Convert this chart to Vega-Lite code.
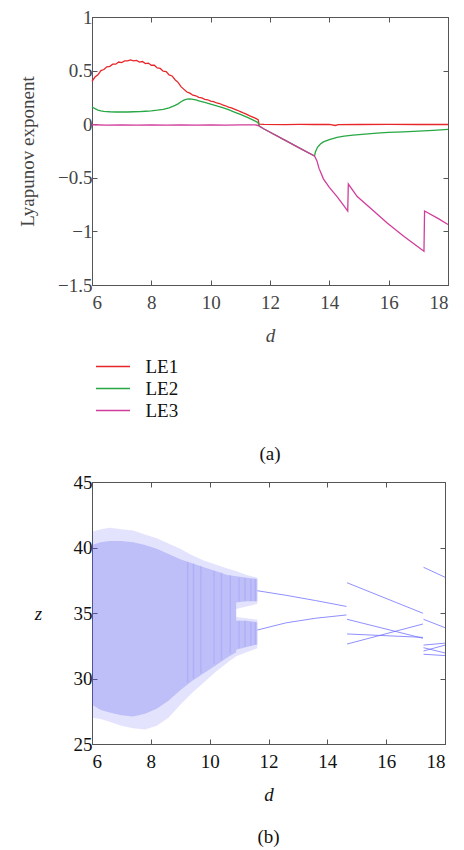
{
  "$schema": "https://vega.github.io/schema/vega-lite/v6.json",
  "background": "white",
  "padding": {"left": 18, "top": 7, "right": 4, "bottom": 5},
  "config": {
    "font": "Liberation Serif",
    "view": {"stroke": "#555", "strokeWidth": 1},
    "axis": {"grid": false, "domainColor": "#555", "tickColor": "#555", "tickSize": -5, "labelFont": "Liberation Serif", "labelFontSize": 19, "titleFont": "Liberation Serif", "titleFontSize": 19, "titleFontWeight": "normal", "labelPadding": 5},
    "axisX": {"labelPadding": 13},
    "title": {"font": "Liberation Serif", "fontSize": 19, "fontWeight": "normal", "color": "#111"}
  },
  "spacing": 7,
  "datasets": {
    "le": [
      {"s": "LE1", "d": 6.0, "v": 0.40}, {"s": "LE1", "d": 6.1, "v": 0.44}, {"s": "LE1", "d": 6.2, "v": 0.46}, {"s": "LE1", "d": 6.3, "v": 0.50}, {"s": "LE1", "d": 6.4, "v": 0.51}, {"s": "LE1", "d": 6.5, "v": 0.535}, {"s": "LE1", "d": 6.6, "v": 0.54}, {"s": "LE1", "d": 6.7, "v": 0.56}, {"s": "LE1", "d": 6.8, "v": 0.56}, {"s": "LE1", "d": 6.9, "v": 0.58},
      {"s": "LE1", "d": 7.0, "v": 0.575}, {"s": "LE1", "d": 7.1, "v": 0.59}, {"s": "LE1", "d": 7.2, "v": 0.59}, {"s": "LE1", "d": 7.3, "v": 0.60}, {"s": "LE1", "d": 7.4, "v": 0.59}, {"s": "LE1", "d": 7.5, "v": 0.595}, {"s": "LE1", "d": 7.6, "v": 0.58}, {"s": "LE1", "d": 7.7, "v": 0.585}, {"s": "LE1", "d": 7.8, "v": 0.565}, {"s": "LE1", "d": 7.9, "v": 0.57},
      {"s": "LE1", "d": 8.0, "v": 0.55}, {"s": "LE1", "d": 8.1, "v": 0.55}, {"s": "LE1", "d": 8.2, "v": 0.525}, {"s": "LE1", "d": 8.3, "v": 0.52}, {"s": "LE1", "d": 8.4, "v": 0.495}, {"s": "LE1", "d": 8.5, "v": 0.49}, {"s": "LE1", "d": 8.6, "v": 0.46}, {"s": "LE1", "d": 8.7, "v": 0.45}, {"s": "LE1", "d": 8.8, "v": 0.415}, {"s": "LE1", "d": 8.9, "v": 0.39},
      {"s": "LE1", "d": 9.0, "v": 0.35}, {"s": "LE1", "d": 9.1, "v": 0.325}, {"s": "LE1", "d": 9.2, "v": 0.30}, {"s": "LE1", "d": 9.3, "v": 0.29}, {"s": "LE1", "d": 9.4, "v": 0.27}, {"s": "LE1", "d": 9.5, "v": 0.265}, {"s": "LE1", "d": 9.6, "v": 0.25}, {"s": "LE1", "d": 9.7, "v": 0.245}, {"s": "LE1", "d": 9.8, "v": 0.232}, {"s": "LE1", "d": 9.9, "v": 0.228},
      {"s": "LE1", "d": 10.0, "v": 0.215}, {"s": "LE1", "d": 10.1, "v": 0.21}, {"s": "LE1", "d": 10.2, "v": 0.198}, {"s": "LE1", "d": 10.3, "v": 0.193}, {"s": "LE1", "d": 10.4, "v": 0.18}, {"s": "LE1", "d": 10.5, "v": 0.172}, {"s": "LE1", "d": 10.6, "v": 0.16}, {"s": "LE1", "d": 10.7, "v": 0.152}, {"s": "LE1", "d": 10.8, "v": 0.14}, {"s": "LE1", "d": 10.9, "v": 0.13},
      {"s": "LE1", "d": 11.0, "v": 0.118}, {"s": "LE1", "d": 11.1, "v": 0.105}, {"s": "LE1", "d": 11.2, "v": 0.094}, {"s": "LE1", "d": 11.3, "v": 0.08}, {"s": "LE1", "d": 11.4, "v": 0.068}, {"s": "LE1", "d": 11.5, "v": 0.056}, {"s": "LE1", "d": 11.6, "v": 0.042}, {"s": "LE1", "d": 11.63, "v": 0.0}, {"s": "LE1", "d": 11.8, "v": -0.002}, {"s": "LE1", "d": 12.5, "v": -0.004},
      {"s": "LE1", "d": 13.0, "v": -0.002}, {"s": "LE1", "d": 13.5, "v": -0.003}, {"s": "LE1", "d": 14.0, "v": -0.002}, {"s": "LE1", "d": 14.2, "v": -0.012}, {"s": "LE1", "d": 14.3, "v": -0.004}, {"s": "LE1", "d": 15.0, "v": -0.003}, {"s": "LE1", "d": 16.0, "v": -0.002}, {"s": "LE1", "d": 17.0, "v": -0.003}, {"s": "LE1", "d": 18.0, "v": -0.003},
      {"s": "LE2", "d": 6.0, "v": 0.16}, {"s": "LE2", "d": 6.1, "v": 0.145}, {"s": "LE2", "d": 6.2, "v": 0.132}, {"s": "LE2", "d": 6.3, "v": 0.125}, {"s": "LE2", "d": 6.4, "v": 0.12}, {"s": "LE2", "d": 6.6, "v": 0.116}, {"s": "LE2", "d": 6.8, "v": 0.114}, {"s": "LE2", "d": 7.0, "v": 0.115}, {"s": "LE2", "d": 7.2, "v": 0.114}, {"s": "LE2", "d": 7.4, "v": 0.116},
      {"s": "LE2", "d": 7.6, "v": 0.118}, {"s": "LE2", "d": 7.8, "v": 0.121}, {"s": "LE2", "d": 8.0, "v": 0.125}, {"s": "LE2", "d": 8.2, "v": 0.131}, {"s": "LE2", "d": 8.4, "v": 0.139}, {"s": "LE2", "d": 8.6, "v": 0.152}, {"s": "LE2", "d": 8.8, "v": 0.175}, {"s": "LE2", "d": 8.9, "v": 0.19}, {"s": "LE2", "d": 9.0, "v": 0.21}, {"s": "LE2", "d": 9.1, "v": 0.225},
      {"s": "LE2", "d": 9.2, "v": 0.233}, {"s": "LE2", "d": 9.3, "v": 0.236}, {"s": "LE2", "d": 9.4, "v": 0.232}, {"s": "LE2", "d": 9.5, "v": 0.226}, {"s": "LE2", "d": 9.6, "v": 0.218}, {"s": "LE2", "d": 9.8, "v": 0.203}, {"s": "LE2", "d": 10.0, "v": 0.188}, {"s": "LE2", "d": 10.2, "v": 0.172}, {"s": "LE2", "d": 10.4, "v": 0.155}, {"s": "LE2", "d": 10.6, "v": 0.135},
      {"s": "LE2", "d": 10.8, "v": 0.113}, {"s": "LE2", "d": 11.0, "v": 0.092}, {"s": "LE2", "d": 11.2, "v": 0.068}, {"s": "LE2", "d": 11.4, "v": 0.043}, {"s": "LE2", "d": 11.55, "v": 0.022}, {"s": "LE2", "d": 11.6, "v": 0.012}, {"s": "LE2", "d": 11.65, "v": -0.02}, {"s": "LE2", "d": 11.8, "v": -0.045}, {"s": "LE2", "d": 12.5, "v": -0.149}, {"s": "LE2", "d": 13.0, "v": -0.223},
      {"s": "LE2", "d": 13.5, "v": -0.297}, {"s": "LE2", "d": 13.53, "v": -0.26}, {"s": "LE2", "d": 13.6, "v": -0.215}, {"s": "LE2", "d": 13.7, "v": -0.185}, {"s": "LE2", "d": 13.8, "v": -0.165}, {"s": "LE2", "d": 14.0, "v": -0.143}, {"s": "LE2", "d": 14.26, "v": -0.122}, {"s": "LE2", "d": 14.5, "v": -0.112}, {"s": "LE2", "d": 14.8, "v": -0.102}, {"s": "LE2", "d": 15.2, "v": -0.092},
      {"s": "LE2", "d": 15.6, "v": -0.083}, {"s": "LE2", "d": 16.0, "v": -0.077}, {"s": "LE2", "d": 16.5, "v": -0.071}, {"s": "LE2", "d": 17.0, "v": -0.064}, {"s": "LE2", "d": 17.5, "v": -0.057}, {"s": "LE2", "d": 18.0, "v": -0.049},
      {"s": "LE3", "d": 6.0, "v": -0.005}, {"s": "LE3", "d": 6.5, "v": -0.008}, {"s": "LE3", "d": 7.0, "v": -0.006}, {"s": "LE3", "d": 7.5, "v": -0.009}, {"s": "LE3", "d": 8.0, "v": -0.006}, {"s": "LE3", "d": 8.5, "v": -0.008}, {"s": "LE3", "d": 9.0, "v": -0.006}, {"s": "LE3", "d": 9.5, "v": -0.008}, {"s": "LE3", "d": 10.0, "v": -0.006}, {"s": "LE3", "d": 10.5, "v": -0.009},
      {"s": "LE3", "d": 11.0, "v": -0.006}, {"s": "LE3", "d": 11.5, "v": -0.007}, {"s": "LE3", "d": 11.6, "v": -0.012}, {"s": "LE3", "d": 11.8, "v": -0.045}, {"s": "LE3", "d": 12.5, "v": -0.149}, {"s": "LE3", "d": 13.0, "v": -0.223}, {"s": "LE3", "d": 13.5, "v": -0.297}, {"s": "LE3", "d": 13.58, "v": -0.34}, {"s": "LE3", "d": 13.65, "v": -0.41}, {"s": "LE3", "d": 13.8, "v": -0.51},
      {"s": "LE3", "d": 14.0, "v": -0.59}, {"s": "LE3", "d": 14.26, "v": -0.675}, {"s": "LE3", "d": 14.45, "v": -0.745}, {"s": "LE3", "d": 14.62, "v": -0.81}, {"s": "LE3", "d": 14.64, "v": -0.558}, {"s": "LE3", "d": 14.94, "v": -0.675}, {"s": "LE3", "d": 15.39, "v": -0.785}, {"s": "LE3", "d": 15.96, "v": -0.925}, {"s": "LE3", "d": 16.53, "v": -1.05}, {"s": "LE3", "d": 17.19, "v": -1.185},
      {"s": "LE3", "d": 17.21, "v": -0.81}, {"s": "LE3", "d": 17.66, "v": -0.878}, {"s": "LE3", "d": 18.0, "v": -0.935}
    ],
    "outer": [
      {"part": "main", "d": 6.0, "lo": 27.0, "hi": 41.2}, {"part": "main", "d": 6.3, "lo": 26.9, "hi": 41.4}, {"part": "main", "d": 6.6, "lo": 26.7, "hi": 41.5}, {"part": "main", "d": 7.0, "lo": 26.4, "hi": 41.4}, {"part": "main", "d": 7.4, "lo": 26.2, "hi": 41.3}, {"part": "main", "d": 7.8, "lo": 26.1, "hi": 41.0}, {"part": "main", "d": 8.2, "lo": 26.4, "hi": 40.7}, {"part": "main", "d": 8.6, "lo": 27.0, "hi": 40.3}, {"part": "main", "d": 9.0, "lo": 28.0, "hi": 39.9}, {"part": "main", "d": 9.4, "lo": 28.9, "hi": 39.4}, {"part": "main", "d": 9.8, "lo": 29.7, "hi": 39.0}, {"part": "main", "d": 10.2, "lo": 30.5, "hi": 38.7}, {"part": "main", "d": 10.6, "lo": 31.2, "hi": 38.4}, {"part": "main", "d": 10.9, "lo": 31.7, "hi": 38.2},
      {"part": "upper", "d": 10.9, "lo": 35.3, "hi": 38.2}, {"part": "upper", "d": 11.25, "lo": 35.5, "hi": 37.9}, {"part": "upper", "d": 11.62, "lo": 35.7, "hi": 37.7},
      {"part": "lower", "d": 10.9, "lo": 31.7, "hi": 34.7}, {"part": "lower", "d": 11.25, "lo": 32.0, "hi": 34.6}, {"part": "lower", "d": 11.62, "lo": 32.3, "hi": 34.5}
    ],
    "inner": [
      {"part": "main", "d": 6.0, "lo": 28.0, "hi": 40.2}, {"part": "main", "d": 6.3, "lo": 27.6, "hi": 40.4}, {"part": "main", "d": 6.6, "lo": 27.4, "hi": 40.5}, {"part": "main", "d": 7.0, "lo": 27.2, "hi": 40.5}, {"part": "main", "d": 7.4, "lo": 27.1, "hi": 40.4}, {"part": "main", "d": 7.8, "lo": 27.3, "hi": 40.2}, {"part": "main", "d": 8.2, "lo": 27.7, "hi": 39.9}, {"part": "main", "d": 8.6, "lo": 28.3, "hi": 39.5}, {"part": "main", "d": 9.0, "lo": 29.1, "hi": 39.1}, {"part": "main", "d": 9.4, "lo": 29.8, "hi": 38.8}, {"part": "main", "d": 9.8, "lo": 30.4, "hi": 38.5}, {"part": "main", "d": 10.2, "lo": 31.0, "hi": 38.2}, {"part": "main", "d": 10.6, "lo": 31.6, "hi": 37.9}, {"part": "main", "d": 10.9, "lo": 32.0, "hi": 37.8},
      {"part": "upper", "d": 10.9, "lo": 35.8, "hi": 37.8}, {"part": "upper", "d": 11.25, "lo": 35.9, "hi": 37.7}, {"part": "upper", "d": 11.62, "lo": 35.9, "hi": 37.6},
      {"part": "lower", "d": 10.9, "lo": 32.2, "hi": 34.4}, {"part": "lower", "d": 11.25, "lo": 32.4, "hi": 34.4}, {"part": "lower", "d": 11.62, "lo": 32.6, "hi": 34.3}
    ],
    "stripes": [
      {"d": 9.25, "lo": 29.7, "hi": 38.9}, {"d": 9.45, "lo": 30.0, "hi": 38.8}, {"d": 9.7, "lo": 30.4, "hi": 38.6}, {"d": 10.15, "lo": 31.1, "hi": 38.2}, {"d": 10.4, "lo": 31.4, "hi": 38.1}, {"d": 10.7, "lo": 31.9, "hi": 37.9},
      {"d": 11.0, "lo": 35.9, "hi": 37.7}, {"d": 11.0, "lo": 32.3, "hi": 34.4}, {"d": 11.2, "lo": 35.9, "hi": 37.7}, {"d": 11.2, "lo": 32.4, "hi": 34.4},
      {"d": 11.4, "lo": 35.9, "hi": 37.6}, {"d": 11.4, "lo": 32.5, "hi": 34.3}, {"d": 11.55, "lo": 35.9, "hi": 37.6}, {"d": 11.55, "lo": 32.6, "hi": 34.3}
    ],
    "branches": [
      {"b": "p2u", "d": 11.62, "z": 36.7}, {"b": "p2u", "d": 12.6, "z": 36.35}, {"b": "p2u", "d": 13.6, "z": 35.95}, {"b": "p2u", "d": 14.65, "z": 35.5},
      {"b": "p2l", "d": 11.62, "z": 33.7}, {"b": "p2l", "d": 12.6, "z": 34.25}, {"b": "p2l", "d": 13.6, "z": 34.6}, {"b": "p2l", "d": 14.65, "z": 34.85},
      {"b": "p4a", "d": 14.67, "z": 37.31}, {"b": "p4a", "d": 17.25, "z": 34.98},
      {"b": "p4b", "d": 14.67, "z": 34.52}, {"b": "p4b", "d": 17.25, "z": 33.07},
      {"b": "p4c", "d": 14.67, "z": 33.40}, {"b": "p4c", "d": 17.25, "z": 33.14},
      {"b": "p4d", "d": 14.67, "z": 32.63}, {"b": "p4d", "d": 17.25, "z": 34.16},
      {"b": "p8a", "d": 17.27, "z": 38.49}, {"b": "p8a", "d": 18.0, "z": 37.73},
      {"b": "p8b", "d": 17.27, "z": 34.52}, {"b": "p8b", "d": 18.0, "z": 33.88},
      {"b": "p8c", "d": 17.27, "z": 32.55}, {"b": "p8c", "d": 18.0, "z": 32.7},
      {"b": "p8d", "d": 17.27, "z": 32.1}, {"b": "p8d", "d": 18.0, "z": 32.55},
      {"b": "p8e", "d": 17.27, "z": 32.35}, {"b": "p8e", "d": 18.0, "z": 31.95},
      {"b": "p8f", "d": 17.27, "z": 31.85}, {"b": "p8f", "d": 18.0, "z": 31.75}
    ]
  },
  "vconcat": [
    {
      "width": 356,
      "height": 268,
      "title": {"text": "(a)", "orient": "bottom", "offset": 100},
      "layer": [
        {
          "data": {"name": "le"},
          "mark": {"type": "line", "strokeWidth": 1.3},
          "encoding": {
            "x": {"field": "d", "type": "quantitative", "scale": {"domain": [6, 18], "nice": false}, "axis": {"title": "d", "titleFontStyle": "italic", "values": [6, 8, 10, 12, 14, 16, 18], "format": "~g", "labelFont": "Liberation Serif", "labelColor": "#444", "titleColor": "#444", "titlePadding": 14}},
            "y": {"field": "v", "type": "quantitative", "scale": {"domain": [-1.5, 1], "nice": false}, "axis": {"title": "Lyapunov exponent", "values": [-1.5, -1, -0.5, 0, 0.5, 1], "format": "~g", "labelFont": "Liberation Serif", "labelColor": "#444", "titleColor": "#444", "titlePadding": 20}},
            "color": {"field": "s", "type": "nominal", "scale": {"domain": ["LE1", "LE2", "LE3"], "range": ["#e8262a", "#27a844", "#d03d9b"]}, "legend": {"title": null, "orient": "none", "legendX": 11.5, "legendY": 340, "symbolType": "M-2,0H2", "symbolSize": 289, "symbolStrokeWidth": 1.5, "labelFont": "Liberation Serif", "labelFontSize": 19, "labelColor": "#111", "labelOffset": 23, "rowPadding": 2}}
          }
        },
        {
          "data": {"name": "le"},
          "mark": {"type": "point", "opacity": 0},
          "encoding": {
            "x": {"field": "d", "type": "quantitative", "axis": {"orient": "top", "labels": false, "title": null, "values": [6, 8, 10, 12, 14, 16, 18]}},
            "y": {"field": "v", "type": "quantitative", "axis": {"orient": "right", "labels": false, "title": null, "values": [-1.5, -1, -0.5, 0, 0.5, 1]}}
          }
        }
      ],
      "resolve": {"axis": {"x": "independent", "y": "independent"}}
    },
    {
      "width": 353,
      "height": 262,
      "title": {"text": "(b)", "orient": "bottom", "offset": 24},
      "layer": [
        {
          "data": {"name": "outer"},
          "mark": {"type": "area", "color": "#5050f0", "opacity": 0.16},
          "encoding": {
            "x": {"field": "d", "type": "quantitative", "scale": {"domain": [6, 18], "nice": false}, "axis": {"title": "d", "titleFontStyle": "italic", "values": [6, 8, 10, 12, 14, 16, 18], "format": "~g", "labelFont": "Liberation Serif", "labelColor": "#111", "titleColor": "#111", "titlePadding": 14}},
            "y": {"field": "hi", "type": "quantitative", "scale": {"domain": [25, 45], "nice": false}, "axis": {"title": "z", "titleFontStyle": "italic", "titleAngle": 0, "titleBaseline": "middle", "values": [25, 30, 35, 40, 45], "format": "~g", "labelFont": "Liberation Serif", "labelColor": "#111", "titleColor": "#111", "titlePadding": 35}},
            "y2": {"field": "lo"},
            "detail": {"field": "part"}
          }
        },
        {
          "data": {"name": "inner"},
          "mark": {"type": "area", "color": "#5050f0", "opacity": 0.25},
          "encoding": {
            "x": {"field": "d", "type": "quantitative", "axis": null},
            "y": {"field": "hi", "type": "quantitative", "axis": null},
            "y2": {"field": "lo"},
            "detail": {"field": "part"}
          }
        },
        {
          "data": {"name": "stripes"},
          "mark": {"type": "rule", "color": "#5050f0", "strokeWidth": 1.5, "opacity": 0.12},
          "encoding": {
            "x": {"field": "d", "type": "quantitative", "axis": null},
            "y": {"field": "hi", "type": "quantitative", "axis": null},
            "y2": {"field": "lo"}
          }
        },
        {
          "data": {"name": "branches"},
          "mark": {"type": "line", "color": "#6a6aff", "strokeWidth": 1, "opacity": 0.75},
          "encoding": {
            "x": {"field": "d", "type": "quantitative", "axis": null},
            "y": {"field": "z", "type": "quantitative", "axis": null},
            "detail": {"field": "b"}
          }
        },
        {
          "data": {"name": "branches"},
          "mark": {"type": "point", "opacity": 0},
          "encoding": {
            "x": {"field": "d", "type": "quantitative", "axis": {"orient": "top", "labels": false, "title": null, "values": [6, 8, 10, 12, 14, 16, 18]}},
            "y": {"field": "z", "type": "quantitative", "axis": {"orient": "right", "labels": false, "title": null, "values": [25, 30, 35, 40, 45]}}
          }
        }
      ],
      "resolve": {"axis": {"x": "independent", "y": "independent"}}
    }
  ]
}
